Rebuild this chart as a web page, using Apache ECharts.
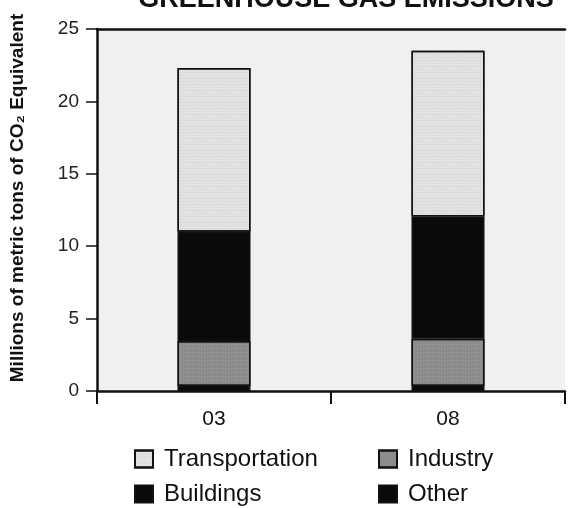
<!DOCTYPE html>
<html>
<head>
<meta charset="utf-8">
<script src="https://cdn.jsdelivr.net/npm/echarts@6/dist/echarts.min.js"></script>
<style>html,body{margin:0;padding:0;background:#fff}#c{width:568px;height:508px}</style>
</head>
<body>
<div id="c"></div>
<script>
const categories = ['03', '08'];
const other = [0.35, 0.35];
const industry = [3.1, 3.25];
const buildings = [7.55, 8.45];
const transportation = [11.3, 11.45];
const yTicks = [0, 5, 10, 15, 20, 25];

const chart = echarts.init(document.getElementById('c'));
const FONT = '"Liberation Sans", Arial, Helvetica, sans-serif';
const border = { borderColor: '#111', borderWidth: 1.5 };
function mkSeries(name, data, color, decal) {
  return {
    name: name, type: 'bar', stack: 'total', data: data, barWidth: 73,
    itemStyle: Object.assign({ color: color, decal: decal }, border),
    emphasis: { disabled: true }
  };
}
const speck = { symbol: 'rect', symbolSize: 0.5, color: 'rgba(0,0,0,0.22)', dashArrayX: [[1, 2], [2, 1]], dashArrayY: [1, 2], rotation: 0 };
const speck2 = { symbol: 'rect', symbolSize: 0.6, color: 'rgba(255,255,255,0.35)', dashArrayX: [[1, 2], [2, 1]], dashArrayY: [1, 1], rotation: 0 };
function leg(name, left, top) {
  return {
    data: [name], left: left, top: top, itemWidth: 18, itemHeight: 17, itemGap: 0, padding: 0,
    textStyle: { fontFamily: FONT, fontSize: 24, color: '#111', padding: [0, 0, 0, 6] },
    selectedMode: false, icon: 'rect'
  };
}
chart.setOption({
  animation: false,
  backgroundColor: '#fff',
  aria: { enabled: false },
  title: {
    text: 'GREENHOUSE GAS EMISSIONS', left: 341, textAlign: 'center', top: -19,
    textStyle: { fontFamily: FONT, fontSize: 27, fontWeight: 'bold', color: '#111' }
  },
  grid: { left: 97, top: 29, right: 3, bottom: 117, show: true, backgroundColor: '#f0f0f0', borderWidth: 0 },
  legend: [
    leg('Transportation', 134, 447),
    leg('Industry', 378, 447),
    leg('Buildings', 134, 482),
    leg('Other', 378, 482)
  ],
  xAxis: [{
    type: 'category', data: categories, position: 'bottom',
    axisLine: { lineStyle: { color: '#111', width: 2.5 } },
    axisTick: { show: true, length: 13, lineStyle: { color: '#111', width: 2 } },
    axisLabel: { fontFamily: FONT, fontSize: 21, color: '#111', margin: 18 }
  }, {
    type: 'category', data: categories, position: 'top',
    axisLine: { lineStyle: { color: '#111', width: 2.5 } },
    axisTick: { show: false }, axisLabel: { show: false }
  }],
  yAxis: {
    type: 'value', min: 0, max: 25, interval: 5,
    name: 'Millions of metric tons of CO₂ Equivalent', nameLocation: 'middle', nameGap: 70,
    nameTextStyle: { fontFamily: FONT, fontSize: 19, fontWeight: 'bold', color: '#111', padding: [0, 0, 0, 24] },
    axisLine: { show: true, lineStyle: { color: '#111', width: 2.5 } },
    axisTick: { show: true, length: 11, lineStyle: { color: '#111', width: 1.5 } },
    axisLabel: { fontFamily: FONT, fontSize: 19, color: '#222', margin: 18,
      formatter: function (v) { return yTicks.indexOf(v) >= 0 ? String(v) : ''; } },
    splitLine: { show: false }
  },
  series: [
    mkSeries('Other', other, '#0a0a0a'),
    mkSeries('Industry', industry, '#8a8a8a', speck2),
    mkSeries('Buildings', buildings, '#0a0a0a'),
    mkSeries('Transportation', transportation, '#e2e2e2', speck)
  ]
});
</script>
</body>
</html>
